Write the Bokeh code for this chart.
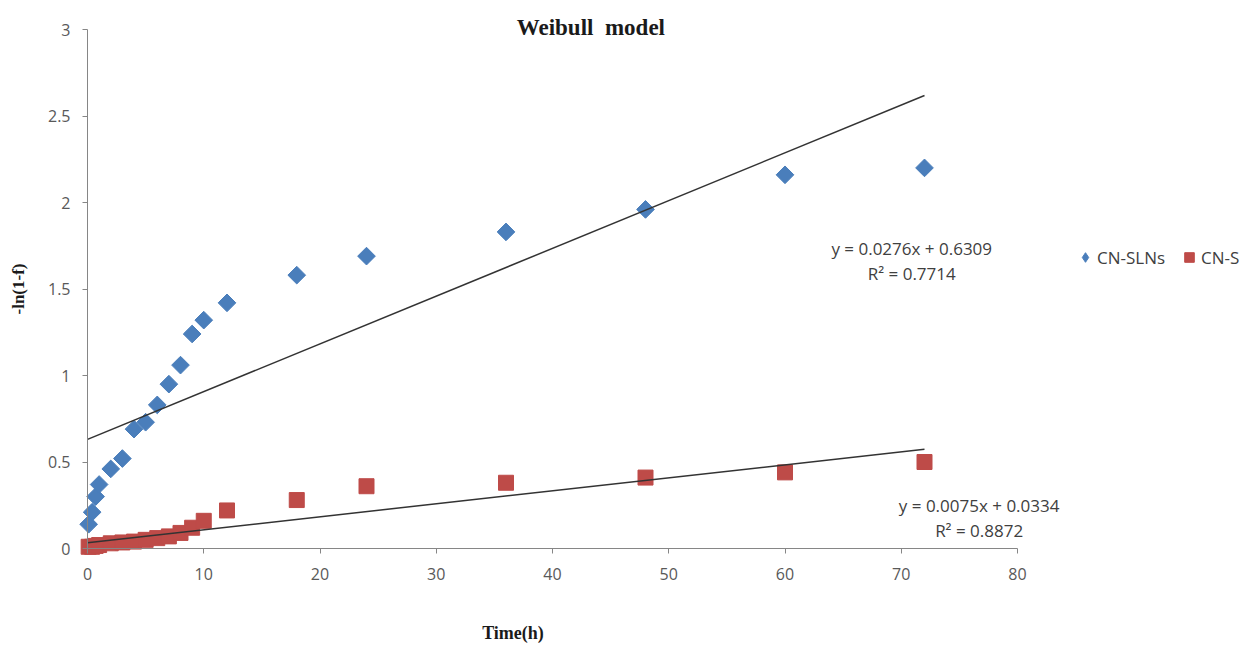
import math
from bokeh.plotting import figure
from bokeh.models import (ColumnDataSource, Label, Legend, LegendItem, Range1d, FixedTicker,
                          LinearAxis)
from bokeh.embed import file_html
from bokeh.resources import INLINE

# ---- data ----
time_h = [0.1, 0.4, 0.7, 1, 2, 3, 4, 5, 6, 7, 8, 9, 10, 12, 18, 24, 36, 48, 60, 72]
cn_slns = [0.14, 0.21, 0.30, 0.37, 0.46, 0.52, 0.69, 0.73, 0.83, 0.95, 1.06, 1.24, 1.32,
           1.42, 1.58, 1.69, 1.83, 1.96, 2.16, 2.20]
cn_s = [0.01, 0.01, 0.015, 0.02, 0.03, 0.035, 0.04, 0.05, 0.06, 0.07, 0.09, 0.12, 0.16,
        0.22, 0.28, 0.36, 0.38, 0.41, 0.44, 0.50]
fit_slns = (0.0276, 0.6309)
fit_s = (0.0075, 0.0334)
fit_x = [0, 72]
eq_slns = ["y = 0.0276x + 0.6309", "R\u00b2 = 0.7714"]
eq_s = ["y = 0.0075x + 0.0334", "R\u00b2 = 0.8872"]
x_ticks = [0, 10, 20, 30, 40, 50, 60, 70, 80]
y_ticks = [0, 0.5, 1, 1.5, 2, 2.5, 3]

SANS = "Open Sans"
SERIF = "Liberation Serif"
BLUE = "#4a7ebb"
RED = "#be4b48"

W, H = 1249, 648
# axis box in pixels: x 0..80 -> 87..1017, y 0..3 -> 548..29
px_per_x = (1017 - 87) / 80.0
px_per_y = (548 - 29) / 3.0
x0 = -87 / px_per_x
x1 = (W - 87) / px_per_x
y0 = -(H - 548) / px_per_y
y1 = 548 / px_per_y

p = figure(width=W, height=H, output_backend="svg", toolbar_location=None,
           x_range=Range1d(x0, x1), y_range=Range1d(y0, y1),
           min_border=0, min_border_left=0, min_border_right=0,
           min_border_top=0, min_border_bottom=0,
           x_axis_location=None, y_axis_location=None)
p.outline_line_color = None
p.grid.visible = False
p.background_fill_color = "white"
p.border_fill_color = "white"

xa = LinearAxis(fixed_location=0, bounds=(0, 80), ticker=FixedTicker(ticks=x_ticks))
ya = LinearAxis(fixed_location=0, bounds=(0, 3), ticker=FixedTicker(ticks=y_ticks))
p.add_layout(xa, "below")
p.add_layout(ya, "left")

for ax in (xa, ya):
    ax.axis_line_color = "#868686"
    ax.major_tick_line_color = "#868686"
    ax.minor_tick_line_color = None
    ax.major_tick_out = 5
    ax.major_tick_in = 0
    ax.major_label_text_font = SANS
    ax.major_label_text_font_size = "16px"
    ax.major_label_text_color = "#595959"
xa.major_label_standoff = 14
ya.major_label_standoff = 12

src = ColumnDataSource(dict(t=time_h, a=cn_slns, b=cn_s))

r_b = p.scatter("t", "b", source=src, marker="square", size=15,
                fill_color=RED, line_color=RED)
r_a = p.scatter("t", "a", source=src, marker="square", size=12.5, angle=math.pi / 4,
                fill_color=BLUE, line_color=BLUE)
# legend key glyph (not plotted: NaN position) so the legend shows a diamond
r_a_key = p.scatter(x=[float("nan")], y=[float("nan")], marker="diamond",
                    fill_color=BLUE, line_color=BLUE)

p.line(fit_x, [fit_slns[0] * x + fit_slns[1] for x in fit_x], line_color="#333333", line_width=1.5)
p.line(fit_x, [fit_s[0] * x + fit_s[1] for x in fit_x], line_color="#333333", line_width=1.5)

# equation labels
def add_lines(lines, x, y, dy):
    for i, txt in enumerate(lines):
        p.add_layout(Label(x=x, y=y - i * dy, text=txt, text_font=SANS, text_font_size="17px",
                           text_color="#404040", text_align="center", text_baseline="middle"))

add_lines(eq_slns, 70.9, 1.735, 0.145)
add_lines(eq_s, 76.7, 0.25, 0.145)

# title and axis labels
p.add_layout(Label(x=43.3, y=3.01, text="Weibull\u00a0 model", text_font=SERIF,
                   text_font_style="bold", text_font_size="23px", text_color="#1a1a1a",
                   text_align="center", text_baseline="middle"))
p.add_layout(Label(x=36.6, y=-0.49, text="Time(h)", text_font=SERIF,
                   text_font_style="bold", text_font_size="18px", text_color="#1a1a1a",
                   text_align="center", text_baseline="middle"))
p.add_layout(Label(x=-5.95, y=1.5, text="-ln(1-f)", text_font=SERIF,
                   text_font_style="bold", text_font_size="17px", text_color="#1a1a1a",
                   angle=math.pi / 2, text_align="center", text_baseline="middle"))

legend = Legend(items=[LegendItem(label="CN-SLNs", renderers=[r_a_key]),
                       LegendItem(label="CN-S", renderers=[r_b])],
                orientation="horizontal", location=(1073, 378),
                label_text_font=SANS, label_text_font_size="17px", label_text_color="#404040",
                glyph_width=24, glyph_height=26, label_standoff=0, spacing=12, padding=0,
                margin=0, border_line_color=None, background_fill_alpha=0)
p.add_layout(legend, "center")

open("out.html", "w").write(file_html(p, INLINE))
